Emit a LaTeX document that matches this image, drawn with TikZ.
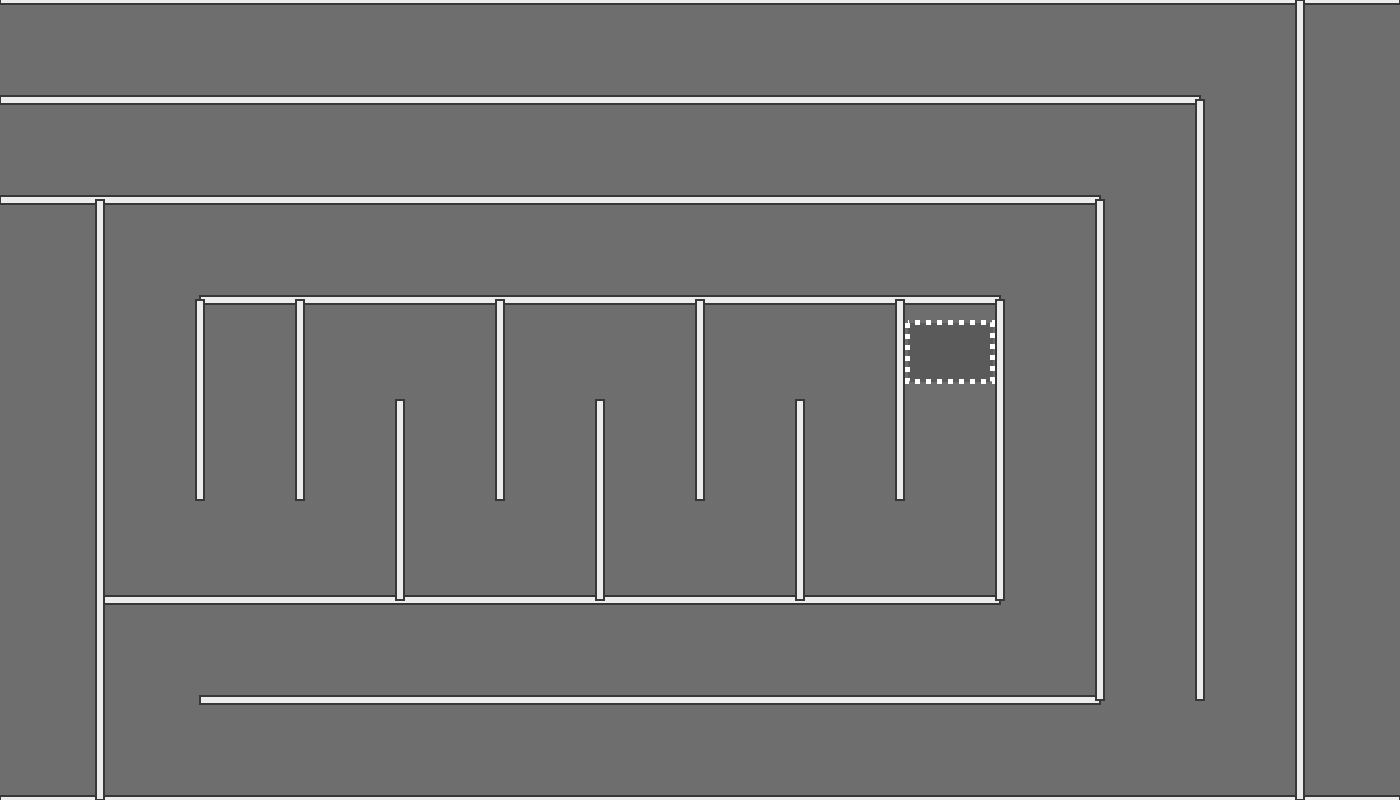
\documentclass[tikz,border=0pt]{standalone}
\definecolor{bg}{RGB}{110,110,110}
\definecolor{wallfill}{RGB}{236,236,236}
\definecolor{wallline}{RGB}{55,55,55}
\definecolor{goal}{RGB}{90,90,90}
\begin{document}
\begin{tikzpicture}[x=0.01cm,y=-0.01cm,
  wall/.style={fill=wallfill,draw=wallline,line width=0.35pt},
  goalbox/.style={fill=goal,draw=white,line width=0.5mm,dash pattern=on 0.5mm off 0.6mm}]
\useasboundingbox (0,0) rectangle (1400,800);
\clip (0,0) rectangle (1400,800);
\fill[bg] (0,0) rectangle (1400,800);
% horizontal walls: x1,x2,y
\foreach \a/\b/\y in {0/1400/0, 0/1400/800, 0/1200/100, 0/1100/200, 200/1000/300, 104/1000/600, 200/1100/700}
  \draw[wall] (\a,\y-4) rectangle (\b,\y+4);
% vertical walls: x,y1,y2
\foreach \x/\a/\b in {1300/0/800, 1200/100/700, 1100/200/700, 100/200/800,
  200/300/500, 300/300/500, 400/400/600, 500/300/500, 600/400/600,
  700/300/500, 800/400/600, 900/300/500, 1000/300/600}
  \draw[wall] (\x-4,\a) rectangle (\x+4,\b);
\draw[goalbox] (907.5,322.5) rectangle (992.5,381.5);
\end{tikzpicture}
\end{document}
